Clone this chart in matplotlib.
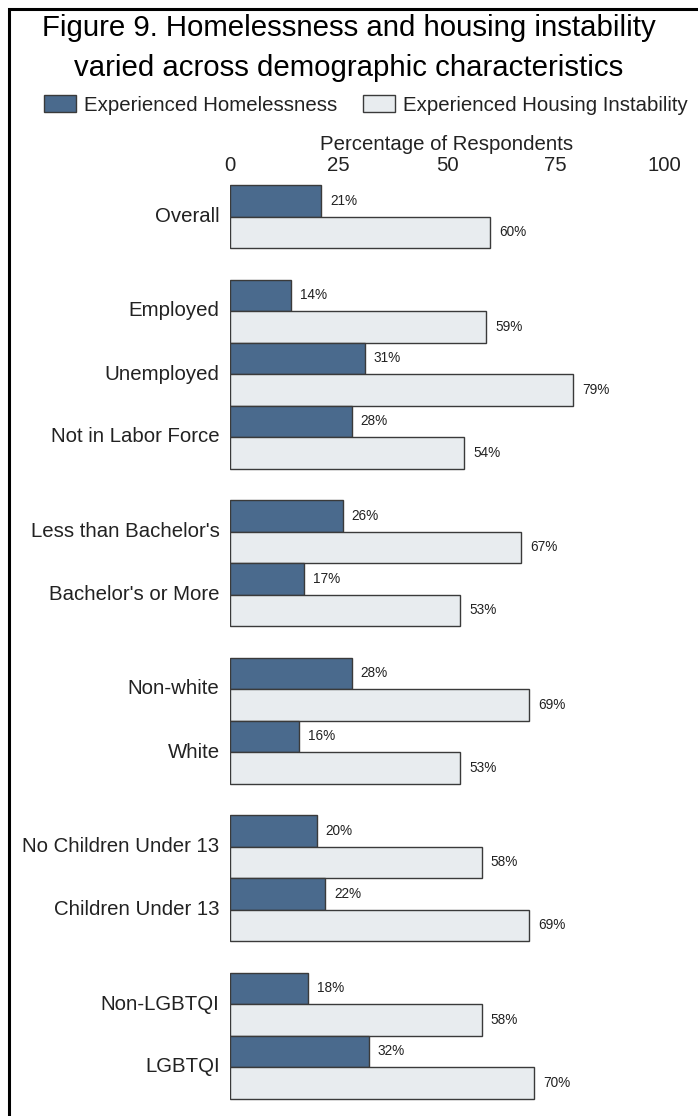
import matplotlib
matplotlib.use("Agg")
import matplotlib.pyplot as plt
from matplotlib.patches import Rectangle, Patch

plt.rcParams['font.family'] = ['Liberation Sans', 'DejaVu Sans']

# Categories, grouped by demographic characteristic
groups = [
    ["Overall"],
    ["Employed", "Unemployed", "Not in Labor Force"],
    ["Less than Bachelor's", "Bachelor's or More"],
    ["Non-white", "White"],
    ["No Children Under 13", "Children Under 13"],
    ["Non-LGBTQI", "LGBTQI"],
]
homeless = [21, 14, 31, 28, 26, 17, 28, 16, 20, 22, 18, 32]
instability = [60, 59, 79, 54, 67, 53, 69, 53, 58, 69, 58, 70]
xticks = [0, 25, 50, 75, 100]
series_names = ["Experienced Homelessness", "Experienced Housing Instability"]

DARK = "#4a6a8d"
LIGHT = "#e8ecef"
EDGE = "#3a3a3a"
TEXT = "#222222"

W, H = 698, 1116
fig = plt.figure(figsize=(W / 100, H / 100), dpi=100)

# Layout in pixels
ax_left, ax_right = 230, 664
unit = 31.5          # height of a single bar in pixels
first_top = 185
margin = 0.25
n_units = sum(2 * len(g) for g in groups) + (len(groups) - 1)
ax_top = first_top - margin * unit
ax_h = (n_units + 2 * margin) * unit
ax = fig.add_axes([ax_left / W, 1 - (ax_top + ax_h) / H,
                   (ax_right - ax_left) / W, ax_h / H])

labels = []
centers = []
y = 0.0
for g in groups:
    for name in g:
        labels.append(name)
        centers.append(y)
        y += 2
    y += 1

k = 0
for name, y0 in zip(labels, centers):
    ax.barh(y0 + 0.5, homeless[k], height=1.0, color=DARK,
            edgecolor=EDGE, linewidth=1.0)
    ax.barh(y0 + 1.5, instability[k], height=1.0, color=LIGHT,
            edgecolor=EDGE, linewidth=1.0)
    ax.annotate(f"{homeless[k]}%", xy=(homeless[k], y0 + 0.5),
                xytext=(6.5, 0), textcoords="offset points",
                ha="left", va="center", fontsize=9.8, color=TEXT)
    ax.annotate(f"{instability[k]}%", xy=(instability[k], y0 + 1.5),
                xytext=(6.5, 0), textcoords="offset points",
                ha="left", va="center", fontsize=9.8, color=TEXT)
    ax.annotate(name, xy=(0, y0 + 1.0), xytext=(-7.5, 0),
                textcoords="offset points", ha="right", va="center",
                fontsize=14.7, color=TEXT)
    k += 1

ax.set_xlim(0, 100)
ax.set_ylim(n_units + margin, -margin)
ax.xaxis.tick_top()
ax.xaxis.set_label_position("top")
ax.set_xticks(xticks)
ax.set_xticklabels([str(t) for t in xticks])
ax.tick_params(axis="x", length=0, pad=1.5, labelsize=14.7, labelcolor=TEXT)
ax.set_yticks([])
ax.set_xlabel("Percentage of Respondents", fontsize=14.7, color=TEXT,
              labelpad=4)
for s in ax.spines.values():
    s.set_visible(False)

# Title
fig.text(0.5, 1 - 28 / H, "Figure 9. Homelessness and housing instability",
         ha="center", va="center", fontsize=21.2, color="black")
fig.text(0.5, 1 - 68 / H, "varied across demographic characteristics",
         ha="center", va="center", fontsize=21.2, color="black")

# Legend
handles = [Patch(facecolor=DARK, edgecolor=EDGE, linewidth=1.0),
           Patch(facecolor=LIGHT, edgecolor=EDGE, linewidth=1.0)]
fig.legend(handles, series_names, loc="center", ncol=2,
           bbox_to_anchor=(366 / W, 1 - 105 / H), frameon=False,
           fontsize=14.7, handlelength=1.55, handleheight=0.9,
           handletextpad=0.4, columnspacing=1.25, labelcolor=TEXT,
           borderpad=0.0, borderaxespad=0.0)

# Frame line along the left and top edges
fig.add_artist(Rectangle((8.8 / W, -0.1), 1.2, 1.1 - 9.5 / H,
                         transform=fig.transFigure, fill=False,
                         edgecolor="black", linewidth=2.2))

fig.savefig("out.png", dpi=100)
